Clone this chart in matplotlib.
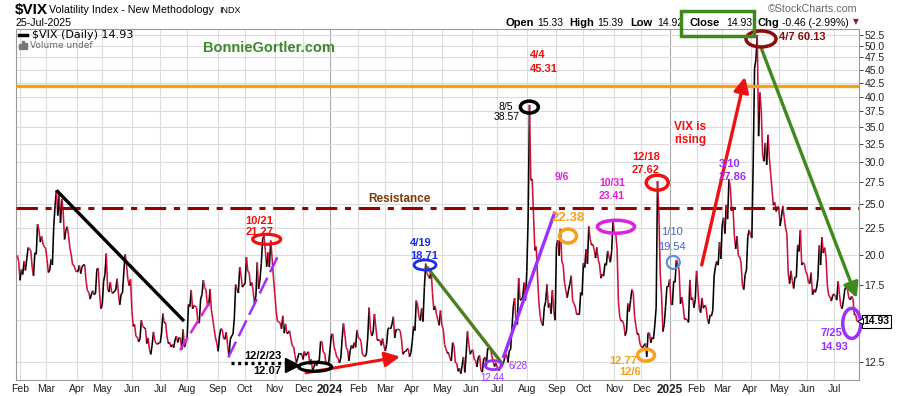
import numpy as np
import matplotlib
matplotlib.use("Agg")
import matplotlib.pyplot as plt
from matplotlib.collections import LineCollection
from matplotlib.patches import Ellipse, Rectangle
from matplotlib.lines import Line2D
from matplotlib.transforms import ScaledTranslation
from matplotlib.ticker import NullLocator

plt.rcParams["font.family"] = ["Liberation Sans", "DejaVu Sans"]

# daily closes of $VIX, one list per month (trading days only)
MONTHS = ["Jan", "Feb", "Mar", "Apr", "May", "Jun",
          "Jul", "Aug", "Sep", "Oct", "Nov", "Dec"]

vix_2023 = [
    [19.94, 19.40],
    [17.87, 18.73, 18.33, 19.43, 18.66, 19.63, 20.63, 20.53, 20.34, 18.91, 18.23, 20.17, 20.02,
     22.87, 22.29, 21.14, 21.67, 20.95, 20.70],
    [20.58, 19.59, 18.49, 18.67, 19.59, 19.11, 22.61, 24.80, 26.52, 23.73, 26.14, 22.99, 25.51,
     24.12, 21.38, 22.26, 22.61, 21.74, 20.60, 19.97, 19.12, 19.08, 18.70],
    [18.55, 18.58, 19.08, 18.40, 18.97, 19.09, 19.09, 17.80, 17.07, 16.95, 16.46, 16.83, 17.07,
     16.77, 16.89, 18.76, 18.84, 16.89, 15.78],
    [16.08, 17.78, 18.34, 20.09, 17.19, 16.98, 17.71, 16.94, 16.88, 17.03, 17.12, 17.99, 16.87,
     16.05, 16.81, 16.91, 18.53, 20.03, 19.14, 17.95, 17.46, 17.94],
    [15.65, 14.60, 14.73, 13.96, 13.94, 13.65, 13.83, 15.01, 14.61, 14.50, 14.50, 13.54, 13.88,
     13.20, 12.91, 13.44, 14.25, 13.74, 13.54, 13.50, 13.59],
    [13.57, 14.18, 15.44, 14.83, 14.84, 14.00, 13.54, 13.61, 13.34, 13.48, 13.30, 13.76, 13.99,
     13.60, 13.91, 13.86, 13.19, 14.41, 13.33, 13.63],
    [13.93, 16.09, 15.92, 17.10, 15.77, 15.99, 15.96, 15.85, 14.84, 14.82, 16.46, 16.78, 17.89,
     17.30, 17.13, 16.00, 15.98, 17.20, 15.68, 15.08, 14.45, 13.88, 13.57],
    [13.09, 14.00, 14.45, 14.40, 13.84, 13.80, 14.23, 13.48, 12.82, 13.79, 14.00, 14.11, 15.14,
     17.54, 17.20, 16.90, 18.94, 18.22, 17.34, 17.52],
    [17.61, 19.78, 18.58, 18.49, 17.45, 17.70, 17.03, 16.09, 16.69, 19.32, 17.21, 17.88, 19.22,
     21.40, 21.71, 20.37, 18.97, 20.19, 18.93, 21.27, 19.75, 18.14],
    [16.87, 15.66, 14.91, 14.89, 14.81, 14.45, 15.29, 14.17, 14.76, 14.16, 14.18, 14.32, 13.80,
     13.41, 13.35, 12.85, 12.46, 12.69, 12.98, 12.92, 12.92],
    [12.63, 13.08, 12.85, 12.97, 13.06, 12.35, 12.63, 12.07, 12.19, 12.48, 12.28, 12.56, 12.53,
     13.67, 13.65, 13.03, 12.99, 12.43, 12.47, 12.45],
]

vix_2024 = [
    [13.20, 14.04, 14.13, 13.35, 13.08, 12.76, 12.69, 12.44, 12.70, 13.84, 14.79, 14.13, 13.30,
     13.19, 12.55, 13.14, 13.45, 13.26, 13.60, 13.31, 14.35],
    [13.88, 13.85, 13.67, 12.93, 12.83, 12.79, 12.93, 13.93, 15.85, 14.38, 14.01, 14.24, 15.42,
     14.54, 13.75, 13.75, 13.74, 13.43, 13.84, 13.40],
    [13.11, 13.49, 14.46, 14.50, 14.44, 14.74, 15.23, 13.88, 14.40, 14.40, 14.41, 14.33, 13.82,
     12.92, 13.06, 13.06, 13.19, 13.24, 12.78, 13.01],
    [13.65, 14.61, 14.33, 16.35, 16.03, 15.19, 14.98, 15.80, 14.91, 17.31, 19.23, 18.40, 18.21,
     18.00, 18.71, 16.94, 15.69, 15.97, 15.37, 15.03, 14.67, 15.65],
    [14.68, 14.44, 13.49, 13.23, 13.00, 13.00, 12.69, 12.55, 13.60, 13.42, 12.45, 12.42, 11.99,
     12.15, 11.86, 12.29, 12.77, 11.93, 12.92, 14.28, 13.49, 12.92],
    [13.11, 13.16, 12.63, 12.58, 12.22, 12.74, 12.85, 12.04, 11.94, 12.66, 12.75, 12.30, 13.28,
     13.20, 13.33, 12.84, 12.55, 12.24, 12.44],
    [12.22, 12.03, 12.09, 12.48, 12.37, 12.51, 12.85, 12.91, 12.46, 13.12, 13.19, 14.48, 15.93,
     16.52, 14.91, 14.72, 18.04, 16.39, 16.39, 16.60, 17.69, 16.36],
    [18.59, 23.39, 38.57, 27.71, 27.85, 23.79, 20.37, 20.71, 18.12, 16.19, 15.23, 14.80, 14.65,
     15.88, 16.27, 17.55, 15.86, 16.15, 15.43, 17.11, 15.65, 15.00],
    [20.72, 21.32, 19.90, 22.38, 19.45, 19.08, 17.69, 17.07, 16.56, 17.14, 17.61, 18.23, 16.33,
     16.15, 15.89, 15.39, 15.41, 15.37, 16.96, 16.73],
    [19.26, 18.90, 20.49, 19.21, 22.64, 21.42, 20.86, 20.93, 20.46, 19.70, 20.64, 19.58, 19.11,
     18.03, 18.37, 18.20, 19.24, 19.08, 20.33, 19.80, 19.34, 20.35, 23.16],
    [21.88, 21.98, 20.49, 16.27, 15.20, 14.94, 14.97, 14.71, 14.02, 14.31, 16.14, 15.58, 16.35,
     17.16, 16.87, 15.24, 14.60, 14.10, 14.10, 13.51],
    [13.34, 13.30, 13.45, 13.54, 12.77, 14.19, 14.18, 13.58, 13.92, 13.81, 14.69, 15.87, 27.62,
     24.09, 18.36, 16.78, 14.27, 14.73, 15.95, 17.40, 17.35],
]

vix_2025 = [
    [17.93, 16.13, 16.04, 17.82, 17.70, 19.54, 19.19, 18.71, 16.12, 16.60, 15.97, 15.06, 15.10,
     15.02, 14.85, 17.90, 16.41, 16.56, 15.84, 16.43],
    [18.62, 17.21, 15.77, 15.50, 16.54, 15.81, 16.02, 15.89, 15.10, 14.77, 15.35, 15.27, 15.66,
     18.21, 18.98, 19.43, 19.10, 21.13, 19.63],
    [22.78, 23.51, 21.93, 24.87, 23.37, 27.86, 26.92, 24.23, 24.66, 21.77, 20.51, 21.70, 19.90,
     19.80, 19.28, 17.48, 17.15, 18.33, 18.69, 21.65, 22.28],
    [21.77, 21.51, 30.02, 45.31, 46.98, 52.33, 33.62, 40.72, 37.56, 30.89, 30.12, 32.64, 29.65,
     33.82, 30.57, 28.45, 26.47, 24.84, 25.15, 24.17, 24.70],
    [24.60, 22.68, 23.64, 24.76, 23.55, 22.48, 21.90, 18.39, 17.61, 18.62, 17.83, 17.24, 18.14,
     18.09, 20.87, 20.28, 22.29, 19.11, 19.31, 19.18, 18.57],
    [18.36, 17.69, 17.61, 18.48, 16.77, 17.16, 16.95, 17.26, 18.02, 20.82, 19.11, 21.60, 20.14,
     20.62, 19.83, 17.48, 16.76, 16.59, 16.32, 16.73],
    [16.83, 16.64, 16.38, 17.79, 16.81, 15.94, 15.78, 16.40, 17.20, 17.38, 17.16, 16.52, 16.41,
     16.65, 16.50, 15.37, 15.39, 14.93],
]

y_ticks = [12.5, 15.0, 17.5, 20.0, 22.5, 25.0, 27.5, 30.0, 32.5, 35.0,
           37.5, 40.0, 42.5, 45.0, 47.5, 50.0, 52.5]
last_close = 14.93
resistance = 24.57
upper_line = 41.9

RED = "#ee1111"
PURPLE = "#9b30ff"
MAGENTA = "#e020e0"
ORANGE = "#f4a11d"
GREEN = "#3f8a1c"
DARKRED = "#8b0a0a"

# flatten into a trading-day index
values, month_starts, month_labels = [], [], []
for year, months in (("2023", vix_2023), ("2024", vix_2024), ("2025", vix_2025)):
    for m, vals in enumerate(months):
        if not (year == "2023" and m == 0):
            month_starts.append(len(values))
            month_labels.append(year if m == 0 else MONTHS[m])
        values.extend(vals)
values = np.array(values)
idx = np.arange(len(values))

W, H = 900, 396
fig = plt.figure(figsize=(W / 100, H / 100), dpi=100, facecolor="white")
ax = fig.add_axes([16 / W, 1 - 380 / H, 843 / W, 351 / H])
ax.set_yscale("log")
ax.set_xlim(-1, len(values) + 0.5)
ax.set_ylim(11.54, 53.8)

# grid
for s, lab in zip(month_starts, month_labels):
    ax.axvline(s, color="#a8a8a8" if lab.isdigit() else "#dcdcdc", lw=0.8, zorder=0)
for t in y_ticks:
    ax.axhline(t, color="#dcdcdc", lw=0.8, zorder=0)

# price line, black on up days, red on down days
pts = np.column_stack([idx, values])
segs = np.stack([pts[:-1], pts[1:]], axis=1)
cols = np.where(np.diff(values) >= 0, "#000000", "#d0103c")
ax.add_collection(LineCollection(segs, colors=cols, linewidths=1.15, zorder=3))

ax.yaxis.set_minor_locator(NullLocator())
ax.yaxis.tick_right()
ax.set_yticks(y_ticks)
ax.set_yticklabels(["" if t == 15.0 else f"{t:.1f}" for t in y_ticks])
ax.tick_params(axis="y", length=3, width=0.6, pad=1, labelsize=7.5,
               colors="#222222")
ax.set_xticks(month_starts)
ax.set_xticklabels(month_labels)
ax.tick_params(axis="x", length=0, pad=3, labelsize=7.5, colors="#222222")
for lab in ax.get_xticklabels():
    if lab.get_text().isdigit():
        lab.set_fontweight("bold")
        lab.set_fontsize(8.5)
for sp in ax.spines.values():
    sp.set_color("#9a9a9a")
    sp.set_linewidth(0.8)


# ---- annotations (trading-day index, VIX value) ----
def ring(i, v, w, h, color, lw=2.3):
    tr = fig.dpi_scale_trans + ScaledTranslation(i, v, ax.transData)
    ax.add_patch(Ellipse((0, 0), w / 100, h / 100, transform=tr, fill=False,
                         ec=color, lw=lw, zorder=6, clip_on=False))


def note(i, v, s, color, size=8, weight="bold", ha="center"):
    ax.text(i, v, s, color=color, fontsize=size, fontweight=weight, ha=ha,
            va="center", zorder=7, clip_on=False)


def seg(p0, p1, color, lw=2.4, ls="-"):
    ax.plot([p0[0], p1[0]], [p0[1], p1[1]], color=color, lw=lw, ls=ls,
            solid_capstyle="butt", zorder=5)


def arrow(p0, p1, color, lw=2.4):
    ax.annotate("", xy=p1, xytext=p0, zorder=5,
                arrowprops=dict(arrowstyle="-|>,head_length=0.9,head_width=0.45",
                                color=color, lw=lw, shrinkA=0, shrinkB=0))


ax.axhline(resistance, color="#990000", lw=2.2, ls=(0, (7, 2.5, 2, 2.5)), zorder=4)
note(283.2, 25.49, "Resistance", "#7b3a0a", size=8.5)
ax.axhline(upper_line, color=ORANGE, lw=2.4, zorder=4)

seg((29, 26.52), (123.7, 14.94), "black", lw=2.4)
seg((120.7, 13.16), (142.4, 16.19), MAGENTA, lw=1.8, ls=(0, (6, 2)))
seg((156.5, 12.74), (192.9, 19.76), PURPLE, lw=1.8, ls=(0, (7, 2.5)))

ring(185.0, 21.39, 28, 10, RED)
note(179.8, 23.18, "10/21", RED)
note(180.0, 22.11, "21.27", RED)

ax.plot([158.5, 200.8], [12.43, 12.43], color="black", lw=2.4, ls=(0, (0.9, 1.1)), zorder=5)
ax.plot(203.8, 12.3, marker=">", ms=10, color="black", zorder=6)
ring(220.9, 12.23, 33, 9, "black")
note(182.3, 12.82, "12/2/23", "black")
note(185.2, 12.0, "12.07", "black")
arrow((214.2, 11.91), (283.9, 12.78), RED, lw=2.2)

ring(302.5, 19.11, 22, 10, "#1a2ee8", lw=2)
note(299.5, 21.04, "4/19", "#1a2ee8")
note(301.7, 19.87, "18.71", "#1a2ee8")
seg((303.7, 18.97), (360.6, 12.32), "#4a7f1e")

ring(353.2, 12.32, 17, 9, PURPLE, lw=2)
note(371.3, 12.27, "6/28", PURPLE, size=7, weight="normal")
note(352.2, 11.64, "12.44", PURPLE, size=7, weight="normal")
seg((360.4, 12.70), (398.9, 24.14), PURPLE)

ring(379.9, 38.2, 18, 12, "black", lw=2.5)
note(362.6, 38.2, "8/5", "black", size=7.5, weight="normal")
note(363.3, 36.58, "38.57", "black", size=7.5, weight="normal")
note(386.3, 48.08, "4/4", RED)
note(390.8, 45.22, "45.31", RED)

note(403.9, 28.11, "9/6", MAGENTA, size=7.5)
ring(408.6, 21.70, 17, 14, ORANGE, lw=2.5)
note(408.8, 23.48, "22.38", ORANGE, size=9.5)

ring(444.2, 22.60, 37, 13, MAGENTA, lw=2.5)
note(441.2, 27.42, "10/31", MAGENTA, size=7.5)
note(441.2, 25.86, "23.41", MAGENTA, size=7.5)

ring(474.8, 27.42, 22, 15, RED, lw=2.5)
note(466.5, 30.73, "12/18", RED)
note(466.5, 28.99, "27.62", RED)

ring(466.5, 12.87, 17, 12, ORANGE, lw=2.5)
note(449.4, 12.55, "12.77", ORANGE)
note(454.6, 11.96, "12/6", ORANGE)

ring(486.7, 19.33, 13, 13, "#5b8fe0", lw=1.6)
note(485.5, 22.11, "1/10", "#3a66d0", size=8, weight="normal")
note(485.5, 20.70, "19.54", "#3a66d0", size=8, weight="normal")

note(499.1, 35.0, "VIX is", RED, size=8.5)
note(499.1, 33.11, "rising", RED, size=8.5)
arrow((507.8, 19.11), (539.9, 43.6), RED, lw=2.4)
note(528.8, 29.76, "3/10", PURPLE)
note(530.8, 28.15, "27.86", PURPLE)

ring(551.8, 51.5, 30, 16, DARKRED, lw=2.5)
note(565.2, 51.96, "4/7 60.13", DARKRED, ha="left")
arrow((552.3, 49.2), (622.8, 16.53), GREEN, lw=2.4)

ring(619.1, 14.79, 18, 30, PURPLE, lw=2.5)
note(604.3, 14.16, "7/25", PURPLE)
note(606.0, 13.35, "14.93", PURPLE)

# last-price tag on the right axis
ytr = ax.get_yaxis_transform()
ax.text(1.0055, last_close, f"{last_close:.2f}", transform=ytr, ha="left", va="center",
        fontsize=7.5, fontweight="bold", clip_on=False, zorder=8,
        bbox=dict(boxstyle="square,pad=0.12", fc="white", ec="black", lw=0.8))
ax.plot([1.0015], [last_close], transform=ytr, marker="<", ms=5, mfc="white",
        mec="black", mew=0.7, clip_on=False, zorder=9)


# ---- header (pixel positions on the figure) ----
def ftext(x, y, s, **kw):
    kw.setdefault("va", "center")
    fig.text(x / W, 1 - y / H, s, **kw)


ftext(15, 10, r"\$VIX", fontsize=11, fontweight="bold")
ftext(49, 10, "Volatility Index - New Methodology", fontsize=7.7)
ftext(219, 10.5, "INDX", fontsize=6.5)
ftext(16, 22.5, "25-Jul-2025", fontsize=7.7)
ftext(768, 9, "©StockCharts.com", fontsize=7.7, color="#666666")

for x, s, bold in [(505, "Open", True), (537, "15.33", False), (569, "High", True),
                   (597, "15.39", False), (630, "Low", True), (657, "14.92", False),
                   (690, "Close", True), (726, "14.93", False), (758, "Chg", True),
                   (782, "-0.46 (-2.99%)", False)]:
    ftext(x, 22.5, s, fontsize=8 if bold else 7.5,
          fontweight="bold" if bold else "normal")
ftext(853, 22, "▼", fontsize=5.5, color="#8b1a4a", family="DejaVu Sans")
fig.add_artist(Rectangle((681 / W, 1 - 36 / H), 73 / W, 25 / H, transform=fig.transFigure,
                         fill=False, ec=GREEN, lw=2.5, zorder=10))

# in-chart legend
fig.add_artist(Line2D([19 / W, 27 / W], [1 - 35 / H] * 2, color="black", lw=2.5))
ftext(31.5, 35, r"\$VIX (Daily) 14.93", fontsize=8, family="DejaVu Sans")
for k, hgt in enumerate([5, 8, 6]):
    fig.add_artist(Rectangle(((19 + 3 * k) / W, 1 - 49 / H), 2 / W, hgt / H,
                             transform=fig.transFigure, color="#777777"))
ftext(29.5, 45.5, "Volume undef", fontsize=6.5, family="DejaVu Sans", color="#666666")
ftext(203, 47.5, "BonnieGortler.com", fontsize=10.5, fontweight="bold", color="#3b8b2b")

fig.savefig("out.png", dpi=100, facecolor="white")
